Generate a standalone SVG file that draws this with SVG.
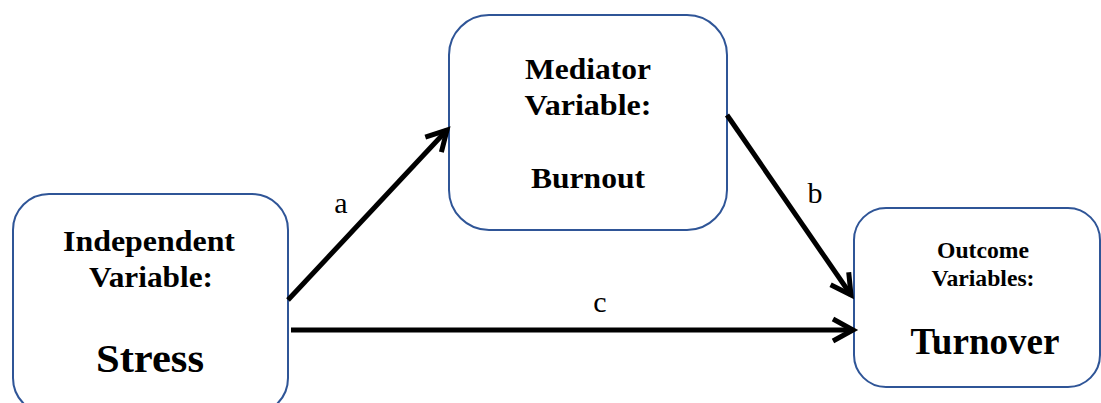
<svg xmlns="http://www.w3.org/2000/svg" width="1101" height="403" viewBox="0 0 1101 403">
  <style>
    .box { fill: #ffffff; stroke: #2F5597; stroke-width: 2; }
    .lbl { font-family: "Liberation Serif", "Times New Roman", serif; font-weight: bold; fill: #000; text-anchor: middle; }
    .path-lbl { font-family: "Liberation Serif", "Times New Roman", serif; font-size: 30px; fill: #000; text-anchor: middle; }
    .conn { stroke: #000; stroke-width: 5; fill: none; }
  </style>
  <defs>
    <marker id="open-arrow" markerUnits="userSpaceOnUse" viewBox="-26 -14 30 28" refX="0" refY="0" markerWidth="30" markerHeight="28" orient="auto" overflow="visible">
      <path d="M -20 -11 L 0 0 L -20 11" fill="none" stroke="#000" stroke-width="5" stroke-linejoin="miter"/>
    </marker>
  </defs>

  <g id="node-independent">
    <rect class="box" x="13" y="194" width="275" height="220" rx="36" ry="36"/>
    <text class="lbl" x="149" y="251" font-size="30" textLength="172" lengthAdjust="spacingAndGlyphs">Independent</text>
    <text class="lbl" x="151" y="287" font-size="30" textLength="124" lengthAdjust="spacingAndGlyphs">Variable:</text>
    <text class="lbl" x="150" y="372" font-size="41" textLength="108" lengthAdjust="spacingAndGlyphs">Stress</text>
  </g>

  <g id="node-mediator">
    <rect class="box" x="449" y="15" width="278" height="215" rx="40" ry="40"/>
    <text class="lbl" x="588" y="79" font-size="30" textLength="126" lengthAdjust="spacingAndGlyphs">Mediator</text>
    <text class="lbl" x="588" y="115" font-size="30" textLength="127" lengthAdjust="spacingAndGlyphs">Variable:</text>
    <text class="lbl" x="588" y="188" font-size="30" textLength="114" lengthAdjust="spacingAndGlyphs">Burnout</text>
  </g>

  <g id="node-outcome">
    <rect class="box" x="854" y="208" width="246" height="179" rx="32" ry="32"/>
    <text class="lbl" x="983" y="258" font-size="23" textLength="92" lengthAdjust="spacingAndGlyphs">Outcome</text>
    <text class="lbl" x="983" y="286" font-size="23" textLength="103" lengthAdjust="spacingAndGlyphs">Variables:</text>
    <text class="lbl" x="985" y="354" font-size="37" textLength="149" lengthAdjust="spacingAndGlyphs">Turnover</text>
  </g>

  <g id="connectors">
    <line class="conn" x1="288" y1="300" x2="447" y2="130" marker-end="url(#open-arrow)"/>
    <line class="conn" x1="727" y1="115" x2="851" y2="295" marker-end="url(#open-arrow)"/>
    <line class="conn" x1="291" y1="330" x2="853" y2="330" marker-end="url(#open-arrow)"/>
    <text class="path-lbl" x="341" y="213">a</text>
    <text class="path-lbl" x="815" y="203">b</text>
    <text class="path-lbl" x="600" y="312">c</text>
  </g>
</svg>
